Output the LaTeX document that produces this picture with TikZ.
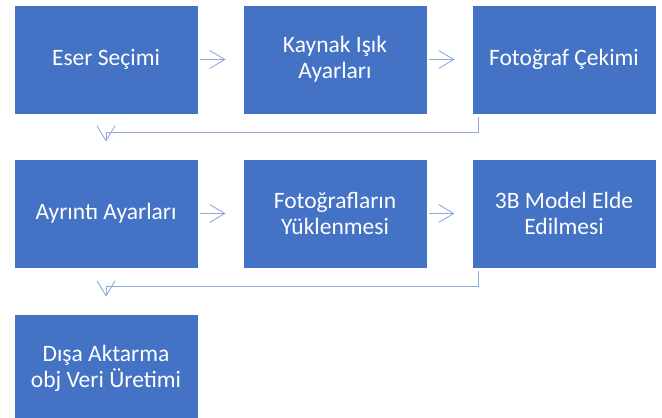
\documentclass[tikz,border=0pt]{standalone}
\usepackage{fontspec}
\setmainfont{Carlito}
\usetikzlibrary{arrows.meta}
\definecolor{boxblue}{HTML}{4472C4}
\definecolor{arrblue}{HTML}{8FAADC}
\tikzset{
  stepbox/.style={rectangle, fill=boxblue, draw=white, line width=0.8pt,
    minimum width=184pt, minimum height=109pt, inner sep=0pt, text=white,
    align=center, font=\fontsize{23.5}{26}\selectfont},
  flow/.style={draw=arrblue, line width=0.9pt,
    -{Straight Barb[length=15pt,width=18pt]}},
}
\begin{document}
\begin{tikzpicture}[x=1pt,y=-1pt]
\clip (0,0) rectangle (662,418);
\fill[white] (0,0) rectangle (662,418);
\node[stepbox] (b1) at (106,59.5) {Eser Seçimi};
\node[stepbox] (b2) at (335,59.5) {Kaynak Işık\\Ayarları};
\node[stepbox] (b3) at (564,59.5) {Fotoğraf Çekimi};
\node[stepbox] (b4) at (106,213.5) {Ayrıntı Ayarları};
\node[stepbox] (b5) at (335,213.5) {Fotoğrafların\\Yüklenmesi};
\node[stepbox] (b6) at (564,213.5) {3B Model Elde\\Edilmesi};
\node[stepbox] (b7) at (106,368.5) {Dışa Aktarma\\obj Veri Üretimi};
\draw[flow, shorten <=2pt, shorten >=17pt] (b1.east) -- (b2.west);
\draw[flow, shorten <=2pt, shorten >=17pt] (b2.east) -- (b3.west);
\draw[flow, shorten <=2pt, shorten >=17pt] (b4.east) -- (b5.west);
\draw[flow, shorten <=2pt, shorten >=17pt] (b5.east) -- (b6.west);
\draw[flow] ([xshift=7pt,yshift=-3pt]b3.south west) -- ([xshift=7pt,yshift=-18pt]b3.south west) -| ([yshift=17pt]b4.north);
\draw[flow] ([xshift=7pt,yshift=-3pt]b6.south west) -- ([xshift=7pt,yshift=-18pt]b6.south west) -| ([yshift=17pt]b7.north);
\end{tikzpicture}
\end{document}
